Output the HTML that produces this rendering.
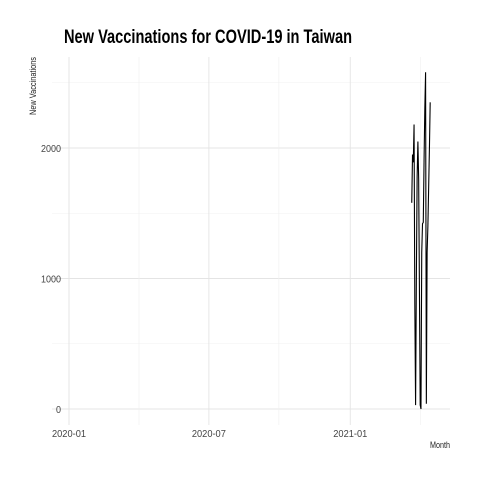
<!DOCTYPE html>
<html><head><meta charset="utf-8"><style>
html,body{margin:0;padding:0;background:#fff;}
svg{display:block;font-family:"Liberation Sans Narrow","Liberation Sans",sans-serif;}
</style></head><body>
<svg id="chart" width="480" height="480" viewBox="0 0 480 480">
<text x="64" y="43" font-size="19" font-weight="bold" textLength="288" lengthAdjust="spacingAndGlyphs" fill="#000">New Vaccinations for COVID-19 in Taiwan</text>
<text transform="translate(36,86) rotate(-90)" text-anchor="middle" font-size="9" textLength="58" lengthAdjust="spacingAndGlyphs" fill="#222">New Vaccinations</text>
<text x="450" y="448" text-anchor="end" font-size="9" textLength="20" lengthAdjust="spacingAndGlyphs" fill="#222">Month</text>
<g id="grid"></g><g id="ticks"></g><g id="series"></g>
</svg>
<script>
const yTicks = [0, 1000, 2000];
const xTickLabels = ["2020-01", "2020-07", "2021-01"];
const xTickDates = ["2020-01-01", "2020-07-01", "2021-01-01"];
const dates = ["2021-03-22","2021-03-23","2021-03-24","2021-03-25","2021-03-26","2021-03-27","2021-03-28","2021-03-29","2021-03-30","2021-03-31","2021-04-01","2021-04-02","2021-04-03","2021-04-04","2021-04-05","2021-04-06","2021-04-07","2021-04-08","2021-04-09","2021-04-10","2021-04-11","2021-04-12","2021-04-13","2021-04-14","2021-04-15"];
const values = [1580,1950,1890,2180,800,30,1000,1780,2050,1760,900,30,0,1200,1420,1430,1900,2300,2580,40,1200,1400,1700,2000,2350];

const ns = "http://www.w3.org/2000/svg";
const t0 = Date.parse("2020-01-01");
const dayMs = 86400000;
function xs(d){ return 69 + (Date.parse(d) - t0) / dayMs * 0.7685; }
function ys(v){ return 409 - v * 0.1305; }
const grid = document.getElementById("grid");
const ticks = document.getElementById("ticks");
function line(p, x1, y1, x2, y2, c, w){
  const l = document.createElementNS(ns, "line");
  l.setAttribute("x1", x1); l.setAttribute("y1", y1); l.setAttribute("x2", x2); l.setAttribute("y2", y2);
  l.setAttribute("stroke", c); l.setAttribute("stroke-width", w);
  p.appendChild(l); return l;
}
for (let i = 0; i < yTicks.length; i++) {
  const l = line(grid, 52, ys(yTicks[i] + 500), 450, ys(yTicks[i] + 500), "#f0f0f0", 0.6);
  
  
}
yTicks.forEach(v => {
  const l = line(grid, 52, ys(v), 450, ys(v), "#e4e4e4", 0.9);
  
  
  const t = document.createElementNS(ns, "text");
  t.setAttribute("x", 61); t.setAttribute("y", ys(v) + 4);
  t.setAttribute("text-anchor", "end"); t.setAttribute("font-size", "10"); t.setAttribute("fill", "#444");
  t.setAttribute("textLength", String(v).length * 5);
  t.setAttribute("lengthAdjust", "spacingAndGlyphs");
  t.textContent = v;
  
  
  ticks.appendChild(t);
});
const xPos = xTickDates.map(xs);
for (let i = 0; i < xPos.length; i++) {
  const mx = xPos[i] + 70;
  const l = line(grid, mx, 57, mx, 425, "#f0f0f0", 0.6);
  
  
}
xPos.forEach((x, i) => {
  const l = line(grid, x, 57, x, 425, "#e4e4e4", 0.9);
  
  
  const t = document.createElementNS(ns, "text");
  t.setAttribute("x", x); t.setAttribute("y", 437);
  t.setAttribute("text-anchor", "middle"); t.setAttribute("font-size", "10"); t.setAttribute("fill", "#444");
  t.setAttribute("textLength", "34");
  t.setAttribute("lengthAdjust", "spacingAndGlyphs");
  t.textContent = xTickLabels[i];
  
  
  ticks.appendChild(t);
});
const p = document.createElementNS(ns, "polyline");
p.setAttribute("points", dates.map((d, i) => xs(d).toFixed(2) + "," + ys(values[i]).toFixed(2)).join(" "));
p.setAttribute("fill", "none"); p.setAttribute("stroke", "#000"); p.setAttribute("stroke-width", "1.1");


document.getElementById("series").appendChild(p);
</script>
</body></html>
